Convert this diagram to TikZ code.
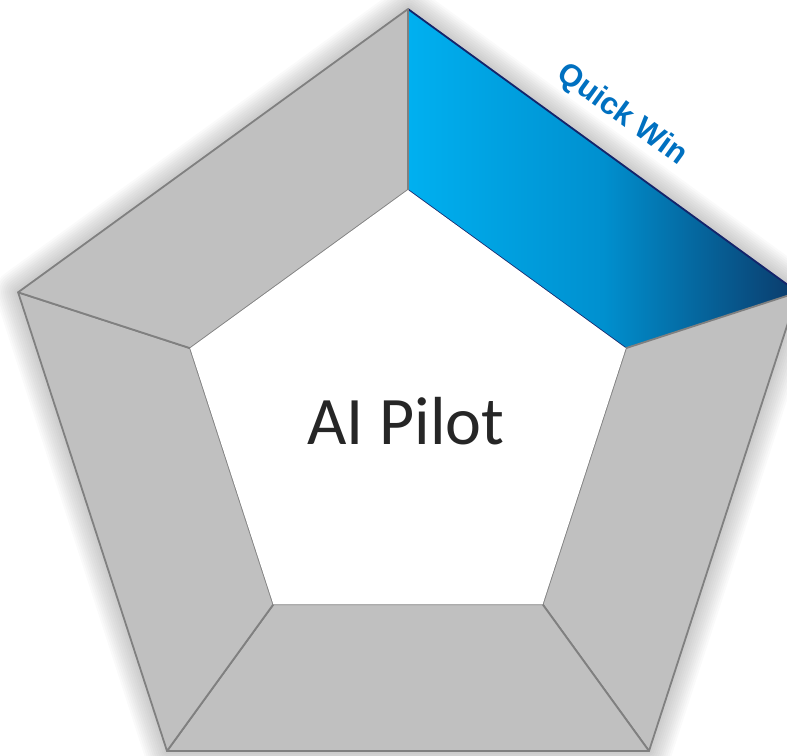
\documentclass[tikz,border=0pt]{standalone}
\usepackage{fontspec}
\newfontfamily\calibrifont{Carlito}
\newfontfamily\arialbold{Liberation Sans Bold}
\definecolor{segfill}{HTML}{C0C0C0}
\definecolor{segline}{HTML}{808080}
\definecolor{qwblue}{HTML}{0070C0}
\definecolor{gradA}{HTML}{00B0F0}
\definecolor{gradB}{HTML}{0090CF}
\definecolor{gradC}{HTML}{0B3A6A}
\definecolor{navy}{HTML}{14246A}
\definecolor{titlegray}{HTML}{262626}
\tikzset{
  segment/.style={fill=segfill, draw=segline, line width=1.8pt, line join=round},
  glow/.style={draw=black, draw opacity=0.018, line join=round},
}
\begin{document}
\begin{tikzpicture}[x=1pt,y=-1pt]
\useasboundingbox (0,0) rectangle (787,755);
\clip (0,0) rectangle (787,755);
% outer ring corners
\coordinate (o1) at (408,9);
\coordinate (o2) at (797.9,292.3);
\coordinate (o3) at (649.0,751);
\coordinate (o4) at (167.0,751);
\coordinate (o5) at (18.1,292.3);
% inner ring corners
\coordinate (i1) at (408,190);
\coordinate (i2) at (625.8,348.2);
\coordinate (i3) at (542.6,604.3);
\coordinate (i4) at (273.4,604.3);
\coordinate (i5) at (190.2,348.2);
% soft shadow round the outer edge
\foreach \w in {2,6,10,14,18,22,26,30,34,38,42,46}
  \path[glow, line width=\w pt] (o1) -- (o2) -- (o3) -- (o4) -- (o5) -- cycle;
\fill[white] (o1) -- (o2) -- (o3) -- (o4) -- (o5) -- cycle;
% highlighted segment
\shade[left color=gradA, right color=gradC, middle color=gradB]
  (o1) -- (o2) -- (i2) -- (i1) -- cycle;
\draw[navy, line width=1.8pt] (o1) -- (o2);
\draw[navy, line width=1.6pt] (i1) -- (i2);
% grey segments
\draw[segment] (o2) -- (o3) -- (i3) -- (i2) -- cycle;
\draw[segment] (o3) -- (o4) -- (i4) -- (i3) -- cycle;
\draw[segment] (o4) -- (o5) -- (i5) -- (i4) -- cycle;
\draw[segment] (o5) -- (o1) -- (i1) -- (i5) -- cycle;
\fill[white] (i1) -- (i2) -- (i3) -- (i4) -- (i5) -- cycle;
% labels
\node[text=titlegray, font=\calibrifont\fontsize{68}{80}\selectfont] (title) at (406,421) {AI Pilot};
\node[text=qwblue, font=\arialbold\fontsize{31}{36}\selectfont, rotate=-36, inner sep=0pt] (tag) at (622,115) {Quick Win};
\end{tikzpicture}
\end{document}
